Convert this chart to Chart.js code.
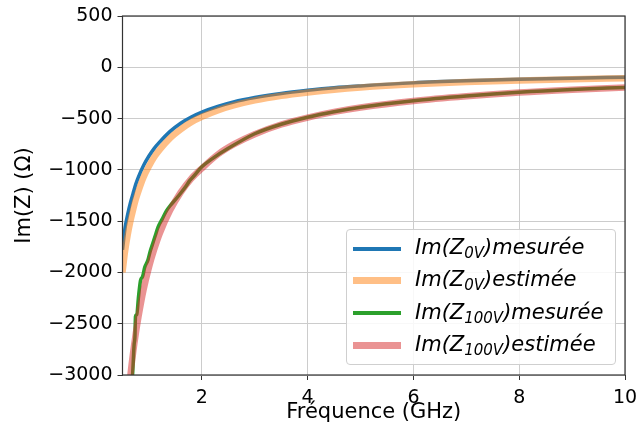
<!DOCTYPE html>
<html>
<head>
<meta charset="utf-8">
<script src="https://cdn.jsdelivr.net/npm/chart.js@4"></script>
<style>
  html, body { margin: 0; padding: 0; background: #fff; }
  #wrap { position: relative; width: 638px; height: 437px; }
  #legend {
    position: absolute; left: 346px; top: 229px; width: 268px; height: 134px;
    border: 1px solid #cfcfcf; border-radius: 4px; background: rgba(255,255,255,0.85);
    font-family: "DejaVu Sans", sans-serif; font-style: italic; font-size: 21px; color: #000;
  }
  .item { position: absolute; left: 6px; height: 28px; display: flex; align-items: center; white-space: nowrap; }
  .swatch { display: inline-block; width: 48px; margin-right: 14px; }
  .item sub { font-size: 15px; vertical-align: -4px; }
</style>
</head>
<body>
<div id="wrap">
  <canvas id="chart" width="638" height="437"></canvas>
  <div id="legend"></div>
</div>
<script>
// tick labels
const xTicks = [2, 4, 6, 8, 10];
const yTicks = [500, 0, -500, -1000, -1500, -2000, -2500, -3000];

// Im(Z) 0V
const freq0V = [0.5, 0.55, 0.6, 0.65, 0.7, 0.75, 0.8, 0.9, 1.0, 1.1, 1.2, 1.4, 1.6, 1.8, 2.0, 2.3, 2.6, 3.0, 3.5, 4.0, 4.5, 5, 6, 7, 8, 9, 10];
const im0VMes = [-1780, -1560, -1430, -1320, -1230, -1140, -1070, -955, -865, -790, -730, -625, -545, -485, -437, -382, -338, -295, -255, -225, -200, -182, -152, -132, -117, -106, -97];
const im0VEst = [-2000, -1790, -1630, -1500, -1390, -1290, -1210, -1070, -965, -875, -805, -690, -605, -535, -483, -420, -372, -323, -278, -245, -218, -197, -166, -144, -128, -116, -106];

// Im(Z) 100V
const freq100VMes = [0.66, 0.69, 0.72, 0.735, 0.745, 0.77, 0.8, 0.84, 0.88, 0.92, 0.98, 1.02, 1.07, 1.12, 1.17, 1.25, 1.33, 1.4, 1.5, 1.58, 1.7, 1.77, 1.85, 2.0, 2.2, 2.5, 3.0, 3.5, 4.0, 4.5, 5, 6, 7, 8, 9, 10];
const im100VMes = [-3150, -3000, -2700, -2630, -2430, -2410, -2250, -2080, -2040, -1950, -1880, -1800, -1720, -1640, -1560, -1480, -1400, -1350, -1290, -1240, -1160, -1105, -1060, -970, -890, -790, -648, -555, -487, -433, -389, -326, -280, -243, -216, -196];
const freq100VEst = [0.6, 0.65, 0.7, 0.75, 0.8, 0.9, 1.0, 1.1, 1.2, 1.4, 1.6, 1.8, 2.0, 2.3, 2.6, 3.0, 3.5, 4.0, 4.5, 5, 6, 7, 8, 9, 10];
const im100VEst = [-3250, -3000, -2785, -2600, -2440, -2165, -1950, -1775, -1625, -1395, -1220, -1085, -985, -850, -752, -652, -558, -490, -435, -392, -328, -282, -245, -218, -197];

const labels = [
  'Im(Z<sub>0V</sub>)mesurée',
  'Im(Z<sub>0V</sub>)estimée',
  'Im(Z<sub>100V</sub>)mesurée',
  'Im(Z<sub>100V</sub>)estimée'
];
const colors = ['#1f77b4', 'rgba(255,127,14,0.5)', '#2ca02c', 'rgba(214,39,40,0.5)'];
const widths = [3.5, 6.5, 3.5, 6.5];

const pts = (xs, ys) => xs.map((x, i) => ({ x: x, y: ys[i] }));
const series = [pts(freq0V, im0VMes), pts(freq0V, im0VEst), pts(freq100VMes, im100VMes), pts(freq100VEst, im100VEst)];

const tickFont = { family: 'DejaVu Sans', size: 19 };
const labelFont = { family: 'DejaVu Sans', size: 21 };

// cadre complet autour du graphe
const frame = {
  id: 'frame',
  afterDatasetsDraw(chart) {
    const a = chart.chartArea, c = chart.ctx;
    c.save();
    c.strokeStyle = '#333';
    c.lineWidth = 1.2;
    c.strokeRect(a.left, a.top, a.right - a.left, a.bottom - a.top);
    c.restore();
  }
};

const ctx = document.getElementById('chart').getContext('2d');
const chart = new Chart(ctx, {
  type: 'line',
  data: {
    datasets: series.map((d, i) => ({
      label: labels[i],
      data: d,
      borderColor: colors[i],
      borderWidth: widths[i],
      pointRadius: 0,
      fill: false,
      cubicInterpolationMode: 'monotone',
      clip: 0,
      order: 4 - i
    }))
  },
  options: {
    responsive: false,
    animation: false,
    layout: { padding: { left: 0, right: 13, top: 16, bottom: 0 } },
    plugins: { legend: { display: false }, tooltip: { enabled: false } },
    scales: {
      x: {
        type: 'linear', min: 0.5, max: 10,
        afterBuildTicks: s => { s.ticks = xTicks.map(v => ({ value: v })); },
        afterFit: s => { s.height = 62; s.paddingLeft = 0; s.paddingRight = 0; },
        grid: { color: '#cccccc', lineWidth: 1, tickLength: 5, tickColor: '#333' },
        border: { display: false },
        ticks: { color: '#000', font: tickFont, padding: 7, maxRotation: 0 },
        title: { display: true, text: 'Fréquence (GHz)', color: '#000', font: labelFont, padding: { top: 0, bottom: 12 } }
      },
      y: {
        min: -3000, max: 500,
        afterBuildTicks: s => { s.ticks = yTicks.map(v => ({ value: v })); },
        afterFit: s => { s.width = 122.5; s.paddingTop = 0; s.paddingBottom = 0; },
        grid: { color: '#cccccc', lineWidth: 1, tickLength: 5, tickColor: '#333' },
        border: { display: false },
        ticks: { color: '#000', font: tickFont, padding: 5, callback: v => v < 0 ? '\u2212' + Math.abs(v) : String(v) },
        title: { display: true, text: 'Im(Z) (\u03a9)', color: '#000', font: labelFont, padding: { top: 12, bottom: 0 } }
      }
    }
  },
  plugins: [frame]
});

// légende
const leg = document.getElementById('legend');
const rows = [18.5, 50, 83, 115];
labels.forEach((t, i) => {
  const it = document.createElement('div');
  it.className = 'item';
  it.style.top = (rows[i] - 14) + 'px';
  it.innerHTML = '<span class="swatch" style="height:' + (widths[i] === 3.5 ? 4 : 7) + 'px;background:' + colors[i] + '"></span><span>' + t + '</span>';
  leg.appendChild(it);
});
</script>
</body>
</html>
